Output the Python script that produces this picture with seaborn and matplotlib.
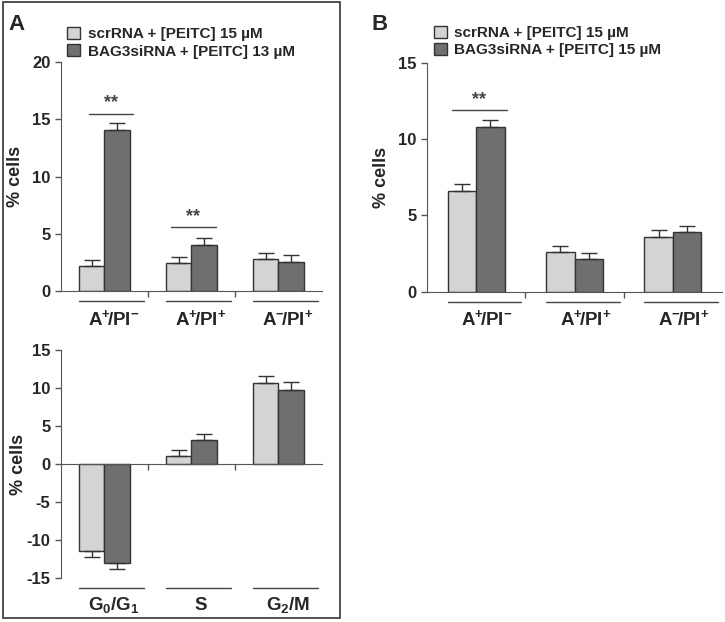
import numpy as np
import pandas as pd
import seaborn as sns
import matplotlib.pyplot as plt
from matplotlib.patches import Patch, Rectangle
from matplotlib.transforms import blended_transform_factory

sns.set_style('ticks')
plt.rcParams['font.family'] = ['Liberation Sans', 'DejaVu Sans']
plt.rcParams['font.weight'] = 'bold'
plt.rcParams['mathtext.fontset'] = 'custom'
plt.rcParams['mathtext.rm'] = 'Liberation Sans:bold'
plt.rcParams['mathtext.bf'] = 'Liberation Sans:bold'
plt.rcParams['mathtext.it'] = 'Liberation Sans:bold'

# Datos -------------------------------------------------------------------
apop_groups = ['A+/PI-', 'A+/PI+', 'A-/PI+']
apop_labels = [r'$\mathbf{A^{+}\!/PI^{-}}$', r'$\mathbf{A^{+}\!/PI^{+}}$', r'$\mathbf{A^{-}\!/PI^{+}}$']
cycle_groups = ['G0/G1', 'S', 'G2/M']
cycle_labels = [r'$\mathbf{G_0/G_1}$', 'S', r'$\mathbf{G_2/M}$']

treat_A = ['scrRNA + [PEITC] 15 µM', 'BAG3siRNA + [PEITC] 13 µM']
treat_B = ['scrRNA + [PEITC] 15 µM', 'BAG3siRNA + [PEITC] 15 µM']

# Panel A arriba (apoptosis)
a_scr = [2.15, 2.45, 2.77]
a_scr_err = [0.55, 0.55, 0.55]
a_bag = [14.1, 4.0, 2.57]
a_bag_err = [0.6, 0.6, 0.55]

# Panel A abajo (ciclo celular)
c_scr = [-11.4, 1.1, 10.7]
c_scr_err = [0.85, 0.8, 0.9]
c_bag = [-13.0, 3.15, 9.8]
c_bag_err = [0.9, 0.85, 1.0]

# Panel B (apoptosis)
b_scr = [6.6, 2.6, 3.6]
b_scr_err = [0.45, 0.4, 0.42]
b_bag = [10.8, 2.14, 3.9]
b_bag_err = [0.48, 0.4, 0.38]

light = '#d4d4d4'
dark = '#6f6f6f'
edge = '#333333'


def make_df(groups, scr, bag, treats):
    return pd.DataFrame({
        'group': groups * 2,
        'value': scr + bag,
        'treat': [treats[0]] * 3 + [treats[1]] * 3,
    })


def draw(ax, df, treats, errs, ylim, yticks, labels, ylab_x, ylab_y=-0.12, line_y=-0.045):
    sns.barplot(data=df, x='group', y='value', hue='treat', hue_order=treats,
                palette=[light, dark], width=0.58, saturation=1, errorbar=None,
                edgecolor=edge, linewidth=1, legend=False, ax=ax)
    for cont, err in zip(ax.containers, errs):
        for bar, e in zip(cont, err):
            x = bar.get_x() + bar.get_width() / 2
            y = bar.get_y() + bar.get_height()
            if abs(bar.get_y()) > 1e-9:
                y = bar.get_y()
            yerr = [[0], [e]] if y >= 0 else [[e], [0]]
            ax.errorbar(x, y, yerr=yerr, fmt='none', ecolor=edge, elinewidth=1,
                        capsize=5.5, capthick=1)
    ax.set_xlim(-0.5, 2.5)
    ax.set_ylim(*ylim)
    ax.set_yticks(yticks)
    ax.set_yticklabels([str(t) for t in yticks], fontsize=12, fontweight='bold')
    ax.set_xticks([0.5, 1.5])
    ax.set_xticklabels([])
    ax.tick_params(axis='both', length=4, width=1, color='#555555')
    ax.set_xlabel('')
    ax.set_ylabel('% cells', fontsize=13, fontweight='bold')
    ax.yaxis.set_label_coords(ylab_x, 0.5)
    for s in ['top', 'right']:
        ax.spines[s].set_visible(False)
    for s in ['left', 'bottom']:
        ax.spines[s].set_color('#555555')
    trans = blended_transform_factory(ax.transData, ax.transAxes)
    for i, lab in enumerate(labels):
        ax.plot([i - 0.29, i + 0.46], [line_y, line_y], color='#444444', lw=1,
                transform=trans, clip_on=False)
        ax.text(i + 0.11, ylab_y, lab, transform=trans, ha='center', va='center',
                fontsize=13.5, fontweight='bold')


def star(ax, x0, x1, y, dy):
    ax.plot([x0, x1], [y, y], color='#444444', lw=1)
    ax.text((x0 + x1) / 2, y + dy, '**', ha='center', va='center', fontsize=13,
            color='#444444')


fig = plt.figure(figsize=(7.25, 6.22), dpi=100)

# A arriba
ax1 = fig.add_axes([0.084, 0.532, 0.360, 0.368])
draw(ax1, make_df(apop_groups, a_scr, a_bag, treat_A), treat_A,
     [a_scr_err, a_bag_err], (0, 20), [0, 5, 10, 15, 20], apop_labels, -0.14)
star(ax1, -0.18, 0.33, 15.5, 0.95)
star(ax1, 0.76, 1.28, 5.6, 0.95)

# A abajo
ax2 = fig.add_axes([0.084, 0.071, 0.360, 0.366])
draw(ax2, make_df(cycle_groups, c_scr, c_bag, treat_A), treat_A,
     [c_scr_err, c_bag_err], (-15, 15), [15, 10, 5, 0, -5, -10, -15], cycle_labels,
     -0.131)
ax2.spines['bottom'].set_position(('data', 0))

# B
ax3 = fig.add_axes([0.589, 0.531, 0.407, 0.368])
draw(ax3, make_df(apop_groups, b_scr, b_bag, treat_B), treat_B,
     [b_scr_err, b_bag_err], (0, 15), [0, 5, 10, 15], apop_labels, -0.125)
star(ax3, -0.25, 0.31, 11.9, 0.7)

# Leyendas
for treats, x, y in [(treat_A, 0.093, 0.957), (treat_B, 0.598, 0.959)]:
    handles = [Patch(facecolor=light, edgecolor=edge, lw=1),
               Patch(facecolor=dark, edgecolor=edge, lw=1)]
    fig.legend(handles, treats, loc='upper left', bbox_to_anchor=(x, y),
               frameon=False, handlelength=0.85, handleheight=0.85,
               handletextpad=0.5, labelspacing=0.2, borderpad=0, borderaxespad=0,
               prop={'size': 11, 'weight': 'bold'})

fig.text(0.012, 0.96, 'A', fontsize=16, fontweight='bold', va='center')
fig.text(0.513, 0.96, 'B', fontsize=16, fontweight='bold', va='center')
fig.add_artist(Rectangle((0.004, 0.006), 0.465, 0.99, transform=fig.transFigure,
                         fill=False, edgecolor='#333333', lw=1.2))

fig.savefig('out.png', dpi=100)
